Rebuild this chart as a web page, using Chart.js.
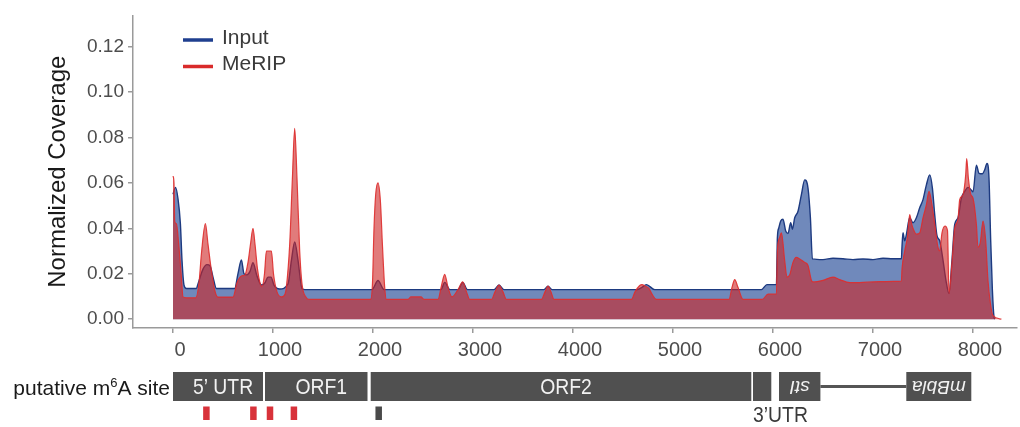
<!DOCTYPE html>
<html>
<head>
<meta charset="utf-8">
<script src="https://cdn.jsdelivr.net/npm/chart.js@4.4.1/dist/chart.umd.min.js"></script>
<style>
  html, body { margin: 0; padding: 0; background: #fff; }
  #wrap { width: 1020px; height: 427px; position: relative; }
</style>
</head>
<body>
<div id="wrap"><canvas id="cov"></canvas></div>
<script>
// Read coverage along the reporter transcript (nt position -> normalized coverage)
const inputPos = [
  0, 25, 50, 74, 90, 110, 134, 234, 250, 300,
  340, 370, 400, 434, 617, 650, 684, 710, 740, 770,
  800, 840, 884, 920, 950, 980, 1010, 1067, 1150, 1184,
  1217, 1250, 1290, 1320, 1990, 2050, 2110, 2680, 2717, 2770,
  2850, 2897, 2945, 3210, 3260, 3310, 3710, 3750, 3790, 4640,
  4690, 4734, 4817, 5883, 5940, 6034, 6044, 6057, 6077, 6100,
  6127, 6150, 6177, 6194, 6217, 6250, 6284, 6317, 6350, 6374,
  6394, 6500, 6600, 6700, 6800, 6900, 7000, 7100, 7200, 7284,
  7290, 7300, 7317, 7334, 7367, 7400, 7434, 7467, 7500, 7534,
  7567, 7594, 7617, 7640, 7667, 7700, 7730, 7760, 7790, 7817,
  7850, 7884, 7917, 7950, 7980, 8000, 8034, 8060, 8094, 8117,
  8140, 8160, 8177, 8194, 8210, 8218
];
const inputCov = [
  0.055, 0.058, 0.053, 0.042, 0.026, 0.015, 0.0135, 0.0135, 0.0155, 0.022,
  0.024, 0.0235, 0.0185, 0.0135, 0.0135, 0.020, 0.026, 0.020, 0.0195, 0.021,
  0.0248, 0.019, 0.015, 0.016, 0.0185, 0.0185, 0.015, 0.0133, 0.0155, 0.0258,
  0.034, 0.026, 0.0135, 0.013, 0.013, 0.017, 0.013, 0.013, 0.0162, 0.013,
  0.013, 0.0162, 0.013, 0.013, 0.015, 0.013, 0.013, 0.0145, 0.013, 0.013,
  0.014, 0.0152, 0.013, 0.013, 0.0152, 0.0152, 0.036, 0.040, 0.0432, 0.044,
  0.0388, 0.0377, 0.0424, 0.0396, 0.0446, 0.0475, 0.0548, 0.0613, 0.0577, 0.0446,
  0.0265, 0.0262, 0.0268, 0.0266, 0.0262, 0.0265, 0.0262, 0.0268, 0.0266, 0.0266,
  0.032, 0.038, 0.0345, 0.0373, 0.0446, 0.0424, 0.0446, 0.049, 0.0526, 0.0591,
  0.0635, 0.0577, 0.046, 0.0367, 0.0345, 0.026, 0.017, 0.0113, 0.026, 0.0417,
  0.0446, 0.0533, 0.0562, 0.058, 0.057, 0.056, 0.0678, 0.0642, 0.064, 0.0657,
  0.0685, 0.062, 0.0345, 0.0127, 0.001, 0
];

const meripPos = [
  0, 10, 17, 34, 57, 84, 100, 134, 227, 260,
  284, 324, 350, 384, 417, 450, 600, 640, 684, 720,
  750, 775, 800, 820, 845, 870, 890, 915, 934, 960,
  984, 1005, 1040, 1084, 1120, 1134, 1167, 1194, 1217, 1240,
  1267, 1290, 1334, 1360, 1975, 1995, 2010, 2027, 2050, 2074,
  2094, 2117, 2134, 2350, 2380, 2480, 2510, 2650, 2684, 2717,
  2750, 2790, 2850, 2897, 2935, 2967, 3184, 3220, 3260, 3300,
  3334, 3684, 3720, 3750, 3780, 3810, 4584, 4620, 4667, 4690,
  4720, 4760, 4790, 4834, 5560, 5590, 5617, 5650, 5700, 5893,
  5950, 6034, 6044, 6067, 6084, 6117, 6140, 6167, 6200, 6234,
  6267, 6317, 6350, 6384, 6400, 6500, 6600, 6667, 6767, 6867,
  7000, 7100, 7200, 7284, 7290, 7317, 7344, 7367, 7384, 7400,
  7434, 7467, 7500, 7534, 7560, 7584, 7617, 7650, 7667, 7690,
  7720, 7745, 7760, 7790, 7817, 7850, 7867, 7900, 7927, 7937,
  7954, 7977, 8000, 8034, 8050, 8074, 8100, 8127, 8150, 8174,
  8200, 8284
];
const meripCov = [
  0.063, 0.060, 0.043, 0.042, 0.033, 0.0185, 0.0098, 0.0094, 0.0094, 0.016,
  0.0287, 0.042, 0.033, 0.0214, 0.0128, 0.0097, 0.0097, 0.016, 0.019, 0.0195,
  0.025, 0.033, 0.040, 0.033, 0.022, 0.016, 0.0143, 0.020, 0.030, 0.030,
  0.030, 0.020, 0.012, 0.0098, 0.011, 0.0142, 0.033, 0.062, 0.084, 0.062,
  0.030, 0.0155, 0.0094, 0.0087, 0.0087, 0.016, 0.040, 0.055, 0.060, 0.052,
  0.033, 0.014, 0.0087, 0.0087, 0.0098, 0.0098, 0.0087, 0.0087, 0.0146, 0.0197,
  0.014, 0.0098, 0.013, 0.0164, 0.012, 0.0087, 0.0087, 0.012, 0.015, 0.012,
  0.0087, 0.0087, 0.012, 0.0145, 0.012, 0.0087, 0.0087, 0.012, 0.0148, 0.0152,
  0.0146, 0.0135, 0.011, 0.0087, 0.0087, 0.014, 0.0174, 0.014, 0.0087, 0.0087,
  0.011, 0.011, 0.030, 0.036, 0.038, 0.0258, 0.0185, 0.0195, 0.025, 0.0272,
  0.0265, 0.025, 0.0236, 0.0171, 0.0164, 0.0171, 0.0185, 0.0174, 0.0161, 0.0161,
  0.0164, 0.0165, 0.0166, 0.0167, 0.022, 0.030, 0.036, 0.046, 0.0424, 0.040,
  0.0374, 0.038, 0.0446, 0.0504, 0.0562, 0.0519, 0.0417, 0.0316, 0.030, 0.038,
  0.041, 0.039, 0.0113, 0.025, 0.040, 0.044, 0.0526, 0.0548, 0.0635, 0.0707,
  0.062, 0.055, 0.0533, 0.0417, 0.0316, 0.034, 0.0432, 0.0345, 0.017, 0.007,
  0.0015, 0
];

const xTicks = [0, 1000, 2000, 3000, 4000, 5000, 6000, 7000, 8000];
const yTicks = [0, 0.02, 0.04, 0.06, 0.08, 0.10, 0.12];

// Reporter map below the coverage track
const blockNames = ['5’ UTR', 'ORF1', 'ORF2', '', 'stI', 'mBbla'];
const blockStart = [0, 920, 1977, 5800, 6060, 7333];
const blockEnd   = [900, 1945, 5783, 5983, 6474, 7983];
const antisense  = [false, false, false, false, true, true];
const intronSpan = [6474, 7333];
const utr3Index = 3;
const utr3Label = '3’UTR';
const enrichedSites = [334, 804, 970, 1209];
const otherSites = [2057];

const FONT = '"Liberation Sans", Arial, Helvetica, sans-serif';
Chart.defaults.font.family = FONT;

const toPoints = (xs, ys) => xs.map((x, i) => ({ x: x, y: ys[i] }));

const overlay = {
  id: 'overlay',
  afterDraw(chart) {
    const ctx = chart.ctx;
    const xs = chart.scales.x;
    const px = v => xs.getPixelForValue(v);
    ctx.save();

    // legend
    const legendX = 183, legendY = [38, 64.5];
    const legendCol = ['#1f3f8f', '#d92b2b'];
    const legendTxt = chart.data.datasets.map(d => d.label);
    ctx.lineWidth = 3.5;
    ctx.lineCap = 'butt';
    ctx.textBaseline = 'middle';
    ctx.textAlign = 'left';
    ctx.font = '21px ' + FONT;
    for (let i = 0; i < 2; i++) {
      ctx.strokeStyle = legendCol[i];
      ctx.beginPath();
      ctx.moveTo(legendX, legendY[i] + 2);
      ctx.lineTo(legendX + 30, legendY[i] + 2);
      ctx.stroke();
      ctx.fillStyle = '#3a3a3a';
      ctx.fillText(legendTxt[i], legendX + 39, legendY[i]);
    }

    // gene map
    const top = 372, h = 29, mid = top + h / 2;
    ctx.strokeStyle = '#555';
    ctx.lineWidth = 3;
    ctx.beginPath();
    ctx.moveTo(px(intronSpan[0]), mid);
    ctx.lineTo(px(intronSpan[1]), mid);
    ctx.stroke();

    for (let i = 0; i < blockNames.length; i++) {
      const x0 = px(blockStart[i]), x1 = px(blockEnd[i]);
      ctx.fillStyle = '#505050';
      ctx.fillRect(x0, top, x1 - x0, h);
      if (!blockNames[i]) continue;
      ctx.fillStyle = '#f2f2f2';
      ctx.textAlign = 'center';
      ctx.textBaseline = 'middle';
      ctx.save();
      if (antisense[i]) {
        ctx.translate((x0 + x1) / 2, mid);
        ctx.rotate(Math.PI);
        ctx.font = 'italic 19px ' + FONT;
        ctx.fillText(blockNames[i], 0, 0);
      } else {
        ctx.translate((x0 + x1) / 2 + 5, mid + 1);
        ctx.scale(0.88, 1);
        ctx.font = '22px ' + FONT;
        ctx.fillText(blockNames[i], 0, 0);
      }
      ctx.restore();
    }

    // 3'UTR label under its block
    ctx.save();
    ctx.fillStyle = '#3a3a3a';
    ctx.textAlign = 'left';
    ctx.textBaseline = 'alphabetic';
    ctx.translate(px(blockStart[utr3Index]), 421.5);
    ctx.scale(0.88, 1);
    ctx.font = '22px ' + FONT;
    ctx.fillText(utr3Label, 0, 0);
    ctx.restore();

    // site marks
    const markTop = 406.5, markH = 13.5, markW = 6.5;
    ctx.fillStyle = '#d8323a';
    enrichedSites.forEach(s => ctx.fillRect(px(s) - markW / 2, markTop, markW, markH));
    ctx.fillStyle = '#4a4a4a';
    otherSites.forEach(s => ctx.fillRect(px(s) - markW / 2, markTop, markW, markH));

    // track label: "putative m6A site" with superscript 6
    const base = 395, right = 170;
    ctx.fillStyle = '#1a1a1a';
    ctx.textAlign = 'left';
    ctx.textBaseline = 'alphabetic';
    const big = '21px ' + FONT, small = '13px ' + FONT;
    const p1 = 'putative m', p2 = '6', p3 = 'A site';
    ctx.font = big; const w1 = ctx.measureText(p1).width, w3 = ctx.measureText(p3).width;
    ctx.font = small; const w2 = ctx.measureText(p2).width;
    let x = right - (w1 + w2 + w3);
    ctx.font = big; ctx.fillText(p1, x, base); x += w1;
    ctx.font = small; ctx.fillText(p2, x, base - 8); x += w2;
    ctx.font = big; ctx.fillText(p3, x, base);

    ctx.restore();
  }
};

new Chart(document.getElementById('cov'), {
  type: 'line',
  data: {
    datasets: [
      {
        label: 'Input',
        data: toPoints(inputPos, inputCov),
        order: 2,
        borderColor: '#1d3a80',
        borderWidth: 1.4,
        backgroundColor: 'rgba(25,65,145,0.62)',
        fill: 'origin',
        pointRadius: 0,
        cubicInterpolationMode: 'monotone'
      },
      {
        label: 'MeRIP',
        data: toPoints(meripPos, meripCov),
        order: 1,
        borderColor: 'rgba(222,45,45,0.9)',
        borderWidth: 1.2,
        backgroundColor: 'rgba(205,35,35,0.6)',
        fill: 'origin',
        pointRadius: 0,
        cubicInterpolationMode: 'monotone'
      }
    ]
  },
  options: {
    responsive: true,
    maintainAspectRatio: false,
    animation: false,
    events: [],
    layout: { padding: { left: 0, right: 3, top: 12, bottom: 59 } },
    plugins: { legend: { display: false }, tooltip: { enabled: false } },
    scales: {
      x: {
        type: 'linear',
        min: -400,
        max: 8440,
        afterBuildTicks: s => { s.ticks = xTicks.map(v => ({ value: v })); },
        afterFit: s => { s.height = 40; },
        border: { display: true, color: '#9a9a9a', width: 1.5 },
        grid: { drawOnChartArea: false, drawTicks: true, tickLength: 5, color: '#9a9a9a', lineWidth: 1.5 },
        ticks: {
          padding: 5,
          labelOffset: 7,
          maxRotation: 0,
          autoSkip: false,
          color: '#4d4d4d',
          font: { size: 20 },
          callback: v => String(v)
        }
      },
      y: {
        type: 'linear',
        min: -0.0039,
        max: 0.1337,
        afterBuildTicks: s => { s.ticks = yTicks.map(v => ({ value: v })); },
        afterFit: s => { s.width = 133; },
        border: { display: true, color: '#9a9a9a', width: 1.5 },
        grid: { drawOnChartArea: false, drawTicks: true, tickLength: 5, color: '#9a9a9a', lineWidth: 1.5 },
        ticks: {
          padding: 4,
          color: '#4d4d4d',
          font: { size: 19 },
          callback: v => Number(v).toFixed(2)
        },
        title: {
          display: true,
          text: 'Normalized Coverage',
          color: '#1a1a1a',
          font: { size: 24 },
          padding: { top: 44, bottom: 0 }
        }
      }
    }
  },
  plugins: [overlay]
});
</script>
</body>
</html>
